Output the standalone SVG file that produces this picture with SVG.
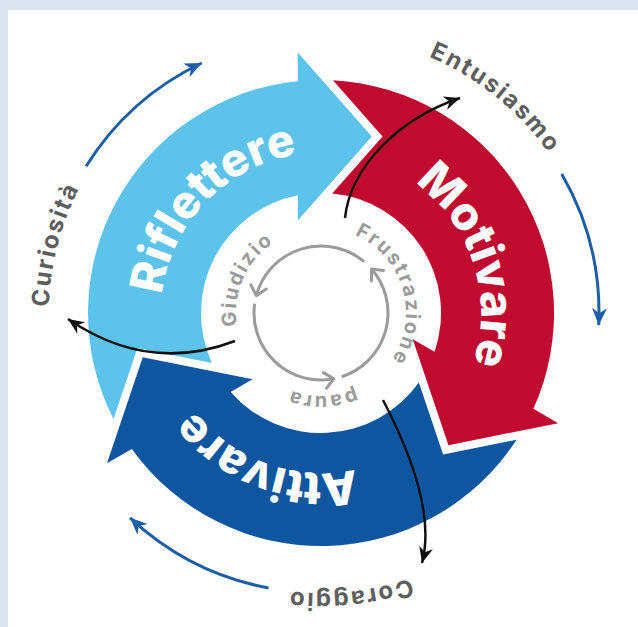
<svg xmlns="http://www.w3.org/2000/svg" width="638" height="627" viewBox="0 0 638 627">
<style>
.big{font-family:Inter,"Liberation Sans",sans-serif;font-weight:800;font-size:46px;fill:#ffffff}
.out{font-family:Inter,"Liberation Sans",sans-serif;font-weight:700;font-size:24px;fill:#5e5e5e;letter-spacing:2px}
.in{font-family:Inter,"Liberation Sans",sans-serif;font-weight:700;font-size:20px;fill:#9b9b9b;letter-spacing:2.2px}
.blue{fill:none;stroke:#1d5ea6;stroke-width:3;marker-end:url(#ab)}
.blk{fill:none;stroke:#111111;stroke-width:2.5;marker-end:url(#ak)}
.gc{fill:none;stroke:#9b9b9b;stroke-width:3;marker-end:url(#ag)}
</style>
<defs>
<path id="arrow" d="M113.5 419 A233 233 0 0 1 297.8 81.16 L297.8 52.5 L371.8 136.5 L297.8 220.5 L297.8 195.26 A120 120 0 0 0 211.92 363.01 L137.42 348.02 Z"/>
<marker id="ab" viewBox="-18 -9 20 18" refX="0" refY="0" markerWidth="20" markerHeight="18" orient="auto" markerUnits="userSpaceOnUse" overflow="visible"><path d="M0 0 L-17 -7.5 L-12 0 L-17 7.5 Z" fill="#1d5ea6"/></marker>
<marker id="ak" viewBox="-18 -9 20 18" refX="0" refY="0" markerWidth="20" markerHeight="18" orient="auto" markerUnits="userSpaceOnUse" overflow="visible"><path d="M0 0 L-16 -7 L-11 0 L-16 7 Z" fill="#111111"/></marker>
<marker id="ag" viewBox="-12 -10 14 20" refX="0" refY="0" markerWidth="14" markerHeight="20" orient="auto" markerUnits="userSpaceOnUse" overflow="visible"><path d="M-9 -8 L0 0 L-9 8" fill="none" stroke="#9b9b9b" stroke-width="3" stroke-linecap="round" stroke-linejoin="round"/></marker>
<path id="tp-rif" d="M191.56 407.05 A160 160 0 0 1 410.47 180.36"/>
<path id="tp-mot" d="M298.73 154.55 A160 160 0 0 1 396.12 454.27"/>
<path id="tp-att" d="M459.56 393 A160 160 0 0 1 163.43 285.22"/>
<path id="tp-ent" d="M138.6 103.19 A278 278 0 0 1 564.14 447.77"/>
<path id="tp-cur" d="M208.64 560.71 A272 272 0 0 1 341.86 41.79"/>
<path id="tp-cor" d="M600.33 332.53 A280 280 0 0 1 51.84 390.18"/>
<path id="tp-fru" d="M312.12 228.47 A85 85 0 0 1 358.26 389.4"/>
<path id="tp-giu" d="M273.47 383.47 A85 85 0 0 1 341.56 230.52"/>
<path id="tp-pau" d="M402.98 325.98 A83 83 0 0 1 239.53 328.84"/>
</defs>
<rect x="0" y="0" width="638" height="627" fill="#dce6f1"/>
<rect x="8" y="10" width="630" height="617" fill="#ffffff"/>
<g id="riflettere">
<use href="#arrow" fill="#5dc3eb"/>
<text class="big"><textPath href="#tp-rif" startOffset="50%" text-anchor="middle">Riflettere</textPath></text>
</g>
<g id="motivare">
<use href="#arrow" fill="#c00a2f" transform="rotate(120 321 313)"/>
<text class="big"><textPath href="#tp-mot" startOffset="50%" text-anchor="middle">Motivare</textPath></text>
</g>
<g id="attivare">
<use href="#arrow" fill="#0e56a0" transform="rotate(240 321 313)"/>
<text class="big"><textPath href="#tp-att" startOffset="50%" text-anchor="middle">Attivare</textPath></text>
</g>
<g id="entusiasmo"><text class="out"><textPath href="#tp-ent" startOffset="50%" text-anchor="middle">Entusiasmo</textPath></text></g>
<g id="curiosita"><text class="out"><textPath href="#tp-cur" startOffset="50%" text-anchor="middle">Curiosità</textPath></text></g>
<g id="coraggio"><text class="out"><textPath href="#tp-cor" startOffset="50%" text-anchor="middle">Coraggio</textPath></text></g>
<g id="frustrazione"><text class="in"><textPath href="#tp-fru" startOffset="50%" text-anchor="middle">Frustrazione</textPath></text></g>
<g id="giudizio"><text class="in"><textPath href="#tp-giu" startOffset="50%" text-anchor="middle">Giudizio</textPath></text></g>
<g id="paura"><text class="in"><textPath href="#tp-pau" startOffset="50%" text-anchor="middle">paura</textPath></text></g>
<g id="connectors">
<path class="gc" d="M364.07 261.68 A67 67 0 0 0 256.28 295.66"/>
<path class="gc" d="M254.65 303.67 A67 67 0 0 0 333.78 378.77"/>
<path class="gc" d="M341.7 376.72 A67 67 0 0 0 371.57 269.04"/>
<path class="blue" d="M86.1 166.22 A277 277 0 0 1 201.75 62.98"/>
<path class="blue" d="M561.75 174 A278 278 0 0 1 598.73 325.12"/>
<path class="blue" d="M268.53 588.04 A280 280 0 0 1 130.04 517.79"/>
<path class="blk" d="M345 218 C350 170 395 120 460 98"/>
<path class="blk" d="M235 341 Q148.5 374 68 319"/>
<path class="blk" d="M383 400 Q437.5 504.5 422 563"/>
</g>
</svg>
